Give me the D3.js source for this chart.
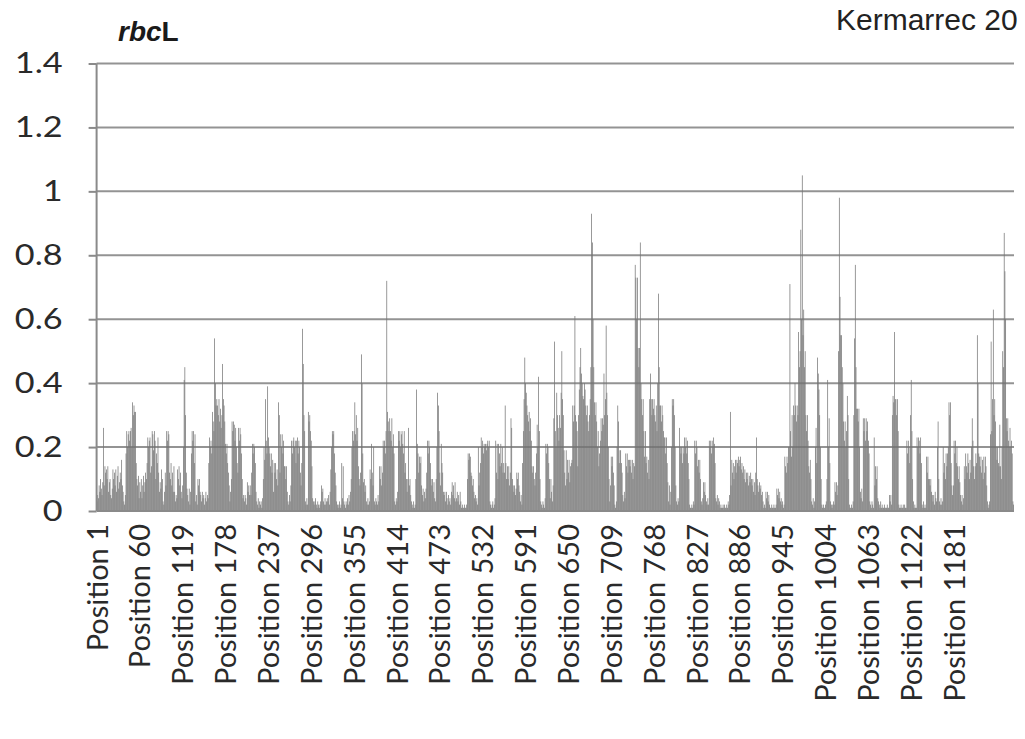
<!DOCTYPE html>
<html>
<head>
<meta charset="utf-8">
<script src="https://cdn.jsdelivr.net/npm/d3@7"></script>
<style>
  body { margin: 0; background: #fff; overflow: hidden; }
  svg { display: block; }
  .axis text { font-family: Lato, "Noto Sans", sans-serif; fill: #2a2a2a; }
  .axis .domain { stroke: #8a8a8a; stroke-width: 2; }
  .axis line { stroke: #8a8a8a; stroke-width: 2; }
</style>
</head>
<body>
<svg id="chart" width="1025" height="739"></svg>
<script>
// substitution value per alignment position, in hundredths
const values = [
  3,5,4,8,6,10,7,5,9,26, 8,14,12,13,10,14,6,9,10,5, 4,7,13,10,12,8,13,6,11,14, 7,9,12,10,16,8,6,3,2,5,
  18,25,20,24,25,22,25,26,20,34, 30,33,31,31,15,10,8,11,4,9, 6,10,4,8,11,6,9,12,10,15, 23,20,22,23,12,14,25,24,19,25,
  22,10,18,15,23,12,6,9,7,13, 10,3,2,6,12,8,25,22,25,24, 12,10,15,8,12,6,
  14,6,3,5, 4,13,10,14,8,12,6, 4,8, 20,41,45,30,12, 7,5,3,7,2,6, 18,25,22,25,15,24, 3,5,2, 10,8,10,6,
  5,3,6,4,5,2,4,6,3,5,4, 15,23,20,22,18, 31,28,25, 54,40,33, 35,33,30,35,28,32,26,30, 46,35,33,28,
  21,18,21,15,12,8, 3,6,10, 28,25,28,27,22,26,20,15, 12,26,22,26,24,18,10, 4,5,3,5,4,2, 9,6,8,5,
  8,5, 12,21,18,21,20,15,6, 3,2,4,1,3,2,3,1,4, 10,20,16,35,22,18, 39,23,20, 18,14,18,12,16, 6,15,12,15,10,13,
  8,34,30,12, 24,20,24,18,22,14, 14,10,14,6, 3,2,5,3,8, 22,18,22,23,20,22,15,22,23,18,22,20,12, 8,15,
  57,46,30,25, 3,2,4,2, 31,28,30,25,22,14, 4,3,2,3,4, 2,1,3,2,1,2,3, 8,6,7, 3,2,4,2,3,
  4,3,5,2,6, 13,20,25,24,25,18,12,8, 3,2,1,2,3,1,2, 15,4,14,3, 2,1,3,2,4,2,5,3,6, 10,20,25,22,25,34,24,
  30,22,26,14,10,8, 12,49,40,18,9, 10,6,8, 3,2,4,2,3, 13,10,21,12,8,20, 3,2,4,3,2,5,3, 14,10,14,8,12,
  22,20,22,18,25, 72,31,28,25, 29,25,22,29,20,24,18, 3,2,4,3,6, 25,22,25,20,24,25, 21,18,
  25,12,15,10,6, 10,26,8,10,5,3, 2,1,3,1,2, 10,38,21,18,12,17, 15,17,8, 5,7,3,6,4,7, 12,22,18,22,20,15,10,
  8,10,6,9,4,3, 10,20,37,33,25,12,8, 21,15,12,6, 5,6,3,6,4,2,5,3,4,2, 6,9,5,8,4,9,3, 4,6,3,5,2,6,3,
  1,2,1,1,2,1,1,2, 10,18,16,18,17,12, 11,8,10,6,4, 5,3,4,2, 20,8,12,15,
  23,20,22,18, 21,20,21,19,21,22,20,22, 3,2,1,2,3,1,2,4, 22,12,21,10, 21,18,14,21,15,20,12, 15,12,33,15,10,
  14,10,14,8,12, 29,26,10, 8,6,8,5,7, 12,10,12,8, 6,3,5,2, 15,25,35,48,40,37, 33,30,28,31,25,29,22,
  14,12,14,10,8, 12,18,27,20,42,25,10, 3,2,1,3,2,1,4, 21,18,21,20,15,10, 4,10,6,3,8, 29,53,25,20, 37,30,
  26,22,30,26, 37,50,35,30, 19,12,8,19,10, 16,12,16,9,14,15,16, 33,28,33,61, 30,28,25,14,30,
  38,45,51,43,40,36,35, 40,38,33,30,33,28,25, 30,35, 45,93,84,60,45, 34,30,34,28,20,25, 14,18,22,
  29,25,29,27,43, 30,35, 58,37,30,20, 10,3,8, 17,14,17,12,8, 2,1,3, 20,33,28,15,19, 19,15,12, 5,3,6,4,
  18,14,18,12,16, 16,14,16,12,16,10,15,14,
  77,73,60,73,51, 45,51,84,40, 35,30,35,25, 17,25,15,17,12,16,10, 35,43,35,30, 35,32,35,30,28,33,25,
  40,68,45,33, 33,28,33,30,25,23, 23,18,23,15, 9,3,8,2,6, 20,35,33,35,30,20,8, 3,2,4,3,
  26,20,18,20,15,20,18, 23,20,23,18,22,15,10, 2,1,1,2,1,3,2, 22,18,22,20,14, 16,12,16,10, 3,2,4,
  9,6,9,5, 3,2,4,2, 22,20,22,18,
  22,20,23,21,15, 4,3,5,2,4,3, 1,2,1,1,2,1,2,1,1,2,1,3,2, 5,31,8, 16,12,15,10,
  14,16,12,16,15,17,14,16,17,13,15,12, 14,10,13,9, 12,10,12,8,11,9,12, 10,8,10,6,9,5, 12,23,10,
  8,6,9,7,8,5,6, 3,1,2,1, 6,4,6,3,5, 2,1,1,2,1,1,2,1,1,2, 7,5,7,4,6,3, 4,2,3,1,2, 17,14,12,17,15,20,
  20,71,25,17,30,20, 33,30,40,33,28,33,30, 56,45,50,88, 60,105,55, 63,45,50, 30,25,30,22, 14,12,16,10,
  3,2,4,1,3, 20,26,15,48, 43,38,30,20,10, 2,1,2,1,1,2,3, 10,41,20,29,15, 3,2,1,2,3,2, 9,6,9,5,8,
  50,98,67,55, 55,45,40, 28,22,28,20,25, 36,30,10, 2,1,1,2,1,3, 30,54,77,45,32, 32,28,32,20, 6,4,7,3, 29,25,29,22,
  29,25,28,22,18, 3,2,1,3,2,1, 23,8, 14,10,14,4,3, 2,1,3,1,2,1,1,2,1,1,1,2,1,1, 5,3,5,2, 30,36,34,56,35,
  35,30,35,25, 2,1,1,2,1,1,2,1,2,1,1, 22,18,22,20,15, 30,41,25,10,3, 1,2,1,1, 23,20,23,22,18,23,15,
  2,1,3,1,2,1, 17,12,17,10, 10,8,10,6, 5,3,5,2,6,4,3, 20,28,10, 3,2,4,2,3,
  20,12,15,10, 18,14,18, 20,34,30,34,15, 8,5,8, 22,18,22,15,20, 14,10,14,9, 5,3,5,2,4,
  14,10,18,14,12,18,15,10,16,12, 20,29,22,14, 10,14,18, 15,55,40,18, 17,14,17,12,16,10, 17,12,17,14,8,
  3,1,2,3, 24,53,25, 35,63,30,35,28, 20,16,20,15, 14,27,14,10,20, 50,45, 87,75,60, 29,25,29,22,
  20,26,20,22,18, 3,2
];

const categories = values.map((v, i) => "Position " + (i + 1));
const tickLabels = ["Position 1", "Position 60", "Position 119", "Position 178", "Position 237",
  "Position 296", "Position 355", "Position 414", "Position 473", "Position 532", "Position 591",
  "Position 650", "Position 709", "Position 768", "Position 827", "Position 886", "Position 945",
  "Position 1004", "Position 1063", "Position 1122", "Position 1181"];
const yTicks = [0, 0.2, 0.4, 0.6, 0.8, 1, 1.2, 1.4];
const yTickLabels = ["0", "0.2", "0.4", "0.6", "0.8", "1", "1.2", "1.4"];
const title = "rbcL";
const source = "Kermarrec 20";   // cut by the right edge in the original

const svg = d3.select("#chart");
const plot = { left: 96.6, right: 1014, top: 63.5, bottom: 511 };

const x = d3.scaleBand().domain(categories).range([plot.left, plot.right]).padding(0);
const y = d3.scaleLinear().domain([0, 1.4]).range([plot.bottom, plot.top]);

// gridlines
svg.append("g")
  .selectAll("line")
  .data(yTicks.filter(d => d > 0))
  .join("line")
  .attr("x1", plot.left).attr("x2", plot.right)
  .attr("y1", d => y(d)).attr("y2", d => y(d))
  .attr("stroke", "#939393")
  .attr("stroke-width", 2);

// bars
svg.append("g")
  .selectAll("rect")
  .data(values)
  .join("rect")
  .attr("x", (d, i) => x(categories[i]))
  .attr("width", x.bandwidth())
  .attr("y", d => y(d / 100))
  .attr("height", d => plot.bottom - y(d / 100))
  .attr("fill", "#737373");

// y axis
const yAxis = d3.axisLeft(y)
  .tickValues(yTicks)
  .tickFormat((d, i) => yTickLabels[i])
  .tickSize(8);

svg.append("g")
  .attr("class", "axis axis--y")
  .attr("transform", `translate(${plot.left},0)`)
  .call(yAxis)
  .call(g => g.selectAll("text")
    .style("font-size", "29px")
    .attr("x", 0)
    .attr("transform", "translate(-34,0) scale(1.18,1)"))
  .call(g => g.select(".domain").attr("d", `M0,${plot.top}V${plot.bottom}`));

// x axis
const xAxis = d3.axisBottom(x)
  .tickValues(tickLabels)
  .tickSize(0)
  .tickPadding(0);

svg.append("g")
  .attr("class", "axis axis--x")
  .attr("transform", `translate(0,${plot.bottom})`)
  .call(xAxis)
  .call(g => g.select(".domain").attr("d", `M${plot.left},0H${plot.right}`))
  .call(g => g.selectAll("text")
    .style("font-size", "29px")
    .attr("text-anchor", "end")
    .attr("transform", "rotate(-90)")
    .attr("x", -13)
    .attr("y", 0)
    .attr("dy", "0.36em"));

// title
const t = svg.append("text")
  .attr("x", 118).attr("y", 41)
  .style("font-family", "'Liberation Sans', Arial, sans-serif")
  .style("font-size", "28px")
  .style("font-weight", "bold")
  .attr("fill", "#1a1a1a");
t.append("tspan").style("font-style", "italic").text(title.slice(0, 3));
t.append("tspan").text(title.slice(3));

svg.append("text")
  .attr("x", 836).attr("y", 30)
  .style("font-family", "'Liberation Sans', Arial, sans-serif")
  .style("font-size", "30px")
  .attr("fill", "#222")
  .text(source);
</script>
</body>
</html>
